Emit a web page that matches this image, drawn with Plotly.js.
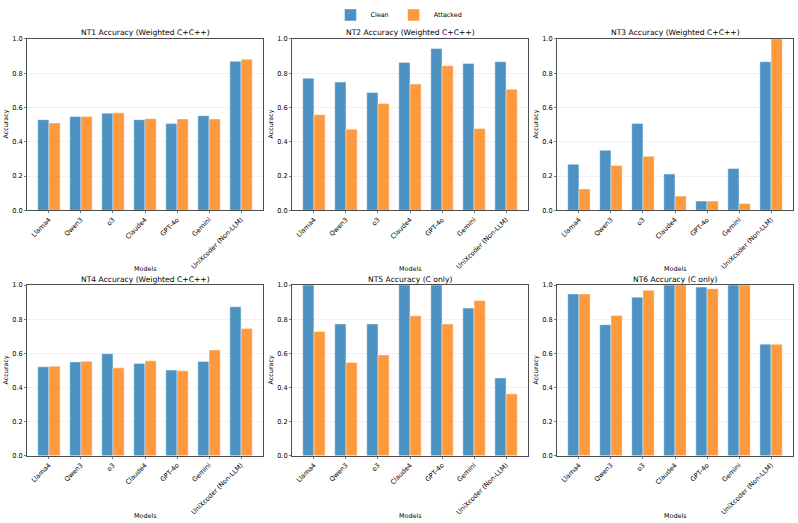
<!DOCTYPE html>
<html>
<head>
<meta charset="utf-8">
<script src="https://cdn.plot.ly/plotly-3.0.1.min.js"></script>
<style>html,body{margin:0;padding:0;background:#fff;}#chart{width:798px;height:523px;}</style>
</head>
<body>
<div id="chart"></div>
<script>
const models = ['Llama4', 'Qwen3', 'o3', 'Claude4', 'GPT-4o', 'Gemini', 'UniXcoder (Non-LLM)'];
const seriesNames = ['Clean', 'Attacked'];
const panelTitles = [
  'NT1 Accuracy (Weighted C+C++)',
  'NT2 Accuracy (Weighted C+C++)',
  'NT3 Accuracy (Weighted C+C++)',
  'NT4 Accuracy (Weighted C+C++)',
  'NT5 Accuracy (C only)',
  'NT6 Accuracy (C only)'
];
const yTickVals = [0, 0.2, 0.4, 0.6, 0.8, 1.0];
const yTickText = ['0.0', '0.2', '0.4', '0.6', '0.8', '1.0'];

const nt1Clean    = [0.529, 0.548, 0.567, 0.529, 0.506, 0.552, 0.869];
const nt1Attacked = [0.510, 0.548, 0.569, 0.535, 0.533, 0.533, 0.881];
const nt2Clean    = [0.771, 0.748, 0.688, 0.863, 0.944, 0.856, 0.867];
const nt2Attacked = [0.558, 0.473, 0.623, 0.737, 0.844, 0.477, 0.706];
const nt3Clean    = [0.269, 0.350, 0.506, 0.212, 0.054, 0.244, 0.867];
const nt3Attacked = [0.125, 0.262, 0.315, 0.083, 0.054, 0.040, 1.000];
const nt4Clean    = [0.521, 0.550, 0.598, 0.541, 0.502, 0.552, 0.873];
const nt4Attacked = [0.525, 0.554, 0.515, 0.556, 0.498, 0.620, 0.745];
const nt5Clean    = [1.000, 0.772, 0.772, 1.000, 1.000, 0.865, 0.456];
const nt5Attacked = [0.728, 0.546, 0.591, 0.820, 0.772, 0.909, 0.363];
const nt6Clean    = [0.948, 0.768, 0.929, 1.000, 0.988, 1.000, 0.654];
const nt6Attacked = [0.948, 0.822, 0.969, 1.000, 0.979, 1.000, 0.654];

const cleanSets = [nt1Clean, nt2Clean, nt3Clean, nt4Clean, nt5Clean, nt6Clean];
const attackedSets = [nt1Attacked, nt2Attacked, nt3Attacked, nt4Attacked, nt5Attacked, nt6Attacked];

const W = 798, H = 523;
const colors = ['rgba(31,119,180,0.8)', 'rgba(255,127,14,0.8)'];
const edge = 'rgba(255,255,255,0.55)';
const FONT = 'DejaVu Sans, sans-serif';
const TICK = 6.6;

// panel geometry in pixels (left, right, top, bottom)
const colX = [[27, 263], [292, 528], [557, 793]];
const rowY = [[33.3, 206.7], [282.3, 455]];

const traces = [];
const layout = {
  width: W, height: H,
  margin: {l: 0, r: 0, t: 0, b: 0},
  paper_bgcolor: '#fff', plot_bgcolor: '#fff',
  barmode: 'group', bargap: 0.3, bargroupgap: 0,
  font: {family: FONT, size: TICK, color: '#000'},
  showlegend: true,
  legend: {orientation: 'h', x: 0.5, xanchor: 'center', y: 1 - 9 / H, yanchor: 'middle',
           font: {family: FONT, size: 6.4, color: '#000'}, itemwidth: 30, bgcolor: 'rgba(0,0,0,0)',
           traceorder: 'normal'},
  annotations: []
};

for (let i = 0; i < 6; i++) {
  const r = Math.floor(i / 3), c = i % 3;
  const xs = i === 0 ? 'x' : 'x' + (i + 1);
  const ys = i === 0 ? 'y' : 'y' + (i + 1);
  const xk = i === 0 ? 'xaxis' : 'xaxis' + (i + 1);
  const yk = i === 0 ? 'yaxis' : 'yaxis' + (i + 1);
  const [l, rr] = colX[c];
  const [t, b] = rowY[r];
  const sets = [cleanSets[i], attackedSets[i]];
  for (let s = 0; s < 2; s++) {
    traces.push({
      type: 'bar', x: models, y: sets[s], name: seriesNames[s],
      xaxis: xs, yaxis: ys, legendgroup: seriesNames[s], showlegend: i === 0,
      marker: {color: colors[s], line: {color: edge, width: 0.8}},
      hoverinfo: 'x+y+name'
    });
  }
  layout[xk] = {
    domain: [l / W, rr / W], anchor: ys,
    type: 'category', range: [-0.685, 6.685],
    showline: true, linecolor: '#222', linewidth: 0.8, mirror: true,
    ticks: 'outside', ticklen: 2.2, tickwidth: 0.6, tickcolor: '#222',
    tickangle: -45, tickfont: {family: FONT, size: TICK, color: '#000'},
    showgrid: false, zeroline: false, fixedrange: true
  };
  layout[yk] = {
    domain: [1 - b / H, 1 - t / H], anchor: xs,
    range: [0, 1], tickvals: yTickVals, ticktext: yTickText,
    showline: true, linecolor: '#222', linewidth: 0.8, mirror: true,
    ticks: 'outside', ticklen: 2.2, tickwidth: 0.6, tickcolor: '#222',
    tickfont: {family: FONT, size: TICK, color: '#000'},
    showgrid: true, gridcolor: 'rgba(176,176,176,0.3)', gridwidth: 0.6,
    zeroline: false, fixedrange: true
  };
  // panel title
  layout.annotations.push({
    text: panelTitles[i], xref: 'paper', yref: 'paper',
    x: (l + rr) / 2 / W, y: 1 - (t - 6) / H, xanchor: 'center', yanchor: 'middle',
    showarrow: false, font: {family: FONT, size: 7.6, color: '#000'}
  });
  // x axis label
  layout.annotations.push({
    text: 'Models', xref: 'paper', yref: 'paper',
    x: (l + rr) / 2 / W, y: 1 - (r === 0 ? 266 : 515.7) / H, xanchor: 'center', yanchor: 'middle',
    showarrow: false, font: {family: FONT, size: 6.4, color: '#000'}
  });
  // y axis label
  layout.annotations.push({
    text: 'Accuracy', xref: 'paper', yref: 'paper',
    x: (l - 21) / W, y: 1 - (t + b) / 2 / H, xanchor: 'center', yanchor: 'middle',
    textangle: -90, showarrow: false, font: {family: FONT, size: 6.4, color: '#000'}
  });
}

Plotly.newPlot('chart', traces, layout, {displayModeBar: false, staticPlot: true});
</script>
</body>
</html>
